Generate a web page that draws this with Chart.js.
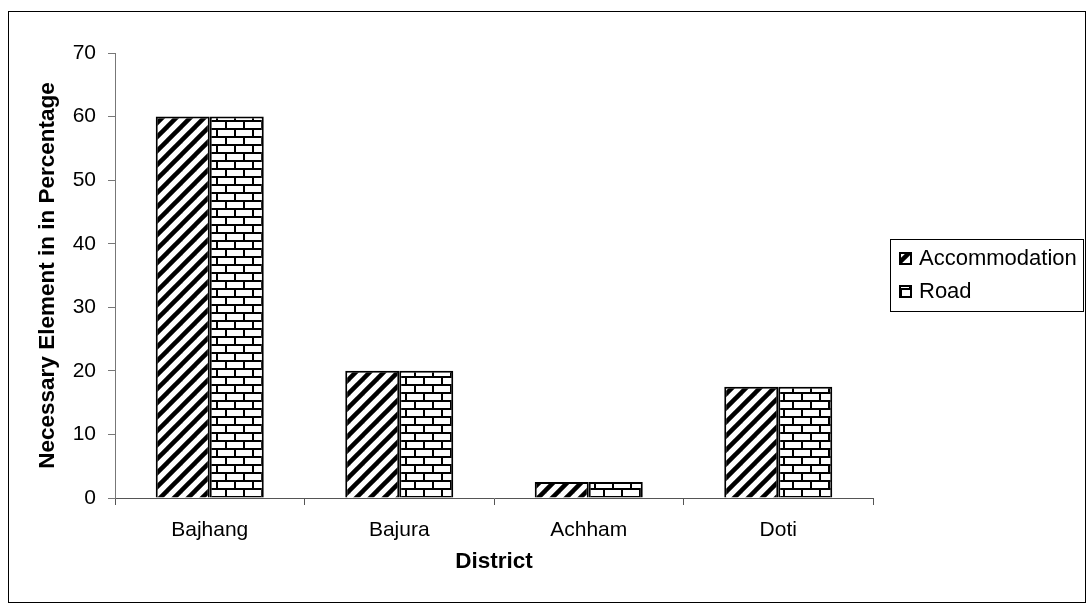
<!DOCTYPE html>
<html>
<head>
<meta charset="utf-8">
<script src="https://cdn.jsdelivr.net/npm/chart.js@4"></script>
<style>
  html, body { margin: 0; padding: 0; background: #fff; }
  #wrap { width: 1086px; height: 604px; }
</style>
</head>
<body>
<div id="wrap"><canvas id="c" width="1086" height="604"></canvas></div>
<script>
// District survey: share of respondents naming each necessary element
const districts = ['Bajhang', 'Bajura', 'Achham', 'Doti'];
const accommodation = [60, 20, 2.5, 17.5];
const road = [60, 20, 2.5, 17.5];
const seriesNames = ['Accommodation', 'Road'];
const yTickValues = [0, 10, 20, 30, 40, 50, 60, 70];

const FONT = '"Liberation Sans", Arial, sans-serif';

// Hatch fill: black "/" stripes on white
function makeDiagonalPattern(ctx) {
  const s = 14;
  const c = document.createElement('canvas');
  c.width = s; c.height = s;
  const g = c.getContext('2d');
  g.fillStyle = '#fff';
  g.fillRect(0, 0, s, s);
  g.strokeStyle = '#000';
  g.lineWidth = 4.5;
  for (const k of [0, s, 2 * s]) {
    g.beginPath();
    g.moveTo(-s, k + s);
    g.lineTo(2 * s, k - 2 * s);
    g.stroke();
  }
  return ctx.createPattern(c, 'repeat');
}

// Brick fill: white bricks with black mortar
function makeBrickPattern(ctx) {
  const w = 18, h = 16;
  const c = document.createElement('canvas');
  c.width = w; c.height = h;
  const g = c.getContext('2d');
  g.fillStyle = '#fff';
  g.fillRect(0, 0, w, h);
  g.fillStyle = '#000';
  g.fillRect(0, 0, w, 2);
  g.fillRect(0, 8, w, 2);
  g.fillRect(0, 2, 2, 6);
  g.fillRect(9, 10, 2, 6);
  return ctx.createPattern(c, 'repeat');
}

const canvas = document.getElementById('c');
const ctx = canvas.getContext('2d');
const hatch = makeDiagonalPattern(ctx);
const brick = makeBrickPattern(ctx);
const fills = [hatch, brick];

const framePlugin = {
  id: 'frameAndLegend',
  beforeDraw(chart) {
    const g = chart.ctx;
    g.save();
    g.fillStyle = '#fff';
    g.fillRect(0, 0, chart.width, chart.height);
    g.restore();
  },
  afterDraw(chart) {
    const g = chart.ctx;
    g.save();
    // outer border of the chart
    g.strokeStyle = '#000';
    g.lineWidth = 1;
    g.strokeRect(8.5, 11.5, 1077, 591);
    // legend box
    g.strokeRect(890.5, 239.5, 193, 72);
    const rows = [258, 291];
    g.font = '22px ' + FONT;
    g.textBaseline = 'middle';
    g.textAlign = 'left';
    seriesNames.forEach((name, i) => {
      const y = rows[i];
      g.fillStyle = fills[i];
      g.fillRect(900, y - 5, 11, 11);
      g.lineWidth = 2;
      g.strokeStyle = '#000';
      g.strokeRect(900, y - 5, 11, 11);
      g.fillStyle = '#000';
      g.fillText(name, 919, y + 1);
    });
    g.restore();
  }
};

new Chart(ctx, {
  type: 'bar',
  data: {
    labels: districts,
    datasets: [
      { label: seriesNames[0], data: accommodation, backgroundColor: hatch,
        borderColor: '#000', borderWidth: 2 },
      { label: seriesNames[1], data: road, backgroundColor: brick,
        borderColor: '#000', borderWidth: 2 }
    ]
  },
  options: {
    responsive: false,
    animation: false,
    devicePixelRatio: 1,
    layout: { padding: { left: 0, top: 53, right: 213, bottom: 0 } },
    datasets: { bar: { barPercentage: 1, categoryPercentage: 0.57 } },
    plugins: {
      legend: { display: false },
      tooltip: { enabled: false }
    },
    scales: {
      x: {
        afterFit(s) { s.height = 106; },
        grid: { display: true, drawOnChartArea: false, drawTicks: true, tickLength: 7, color: '#555' },
        border: { display: true, color: '#555', width: 1 },
        ticks: { color: '#000', font: { family: FONT, size: 21 }, padding: 13 },
        title: { display: true, text: 'District', color: '#000',
                 font: { family: FONT, size: 22.5, weight: 'bold' }, padding: { top: 0, bottom: 28.5 } }
      },
      y: {
        min: 0, max: 70,
        afterFit(s) { s.width = 115; },
        afterBuildTicks(s) { s.ticks = yTickValues.map(v => ({ value: v })); },
        grid: { display: true, drawOnChartArea: false, drawTicks: true, tickLength: 7, color: '#777' },
        border: { display: true, color: '#777', width: 1 },
        ticks: { color: '#000', font: { family: FONT, size: 21 }, padding: 12 },
        title: { display: true, text: 'Necessary Element in in Percentage', color: '#000',
                 font: { family: FONT, size: 22.5, weight: 'bold' }, padding: { top: 34.5, bottom: 0 } }
      }
    }
  },
  plugins: [framePlugin]
});
</script>
</body>
</html>
